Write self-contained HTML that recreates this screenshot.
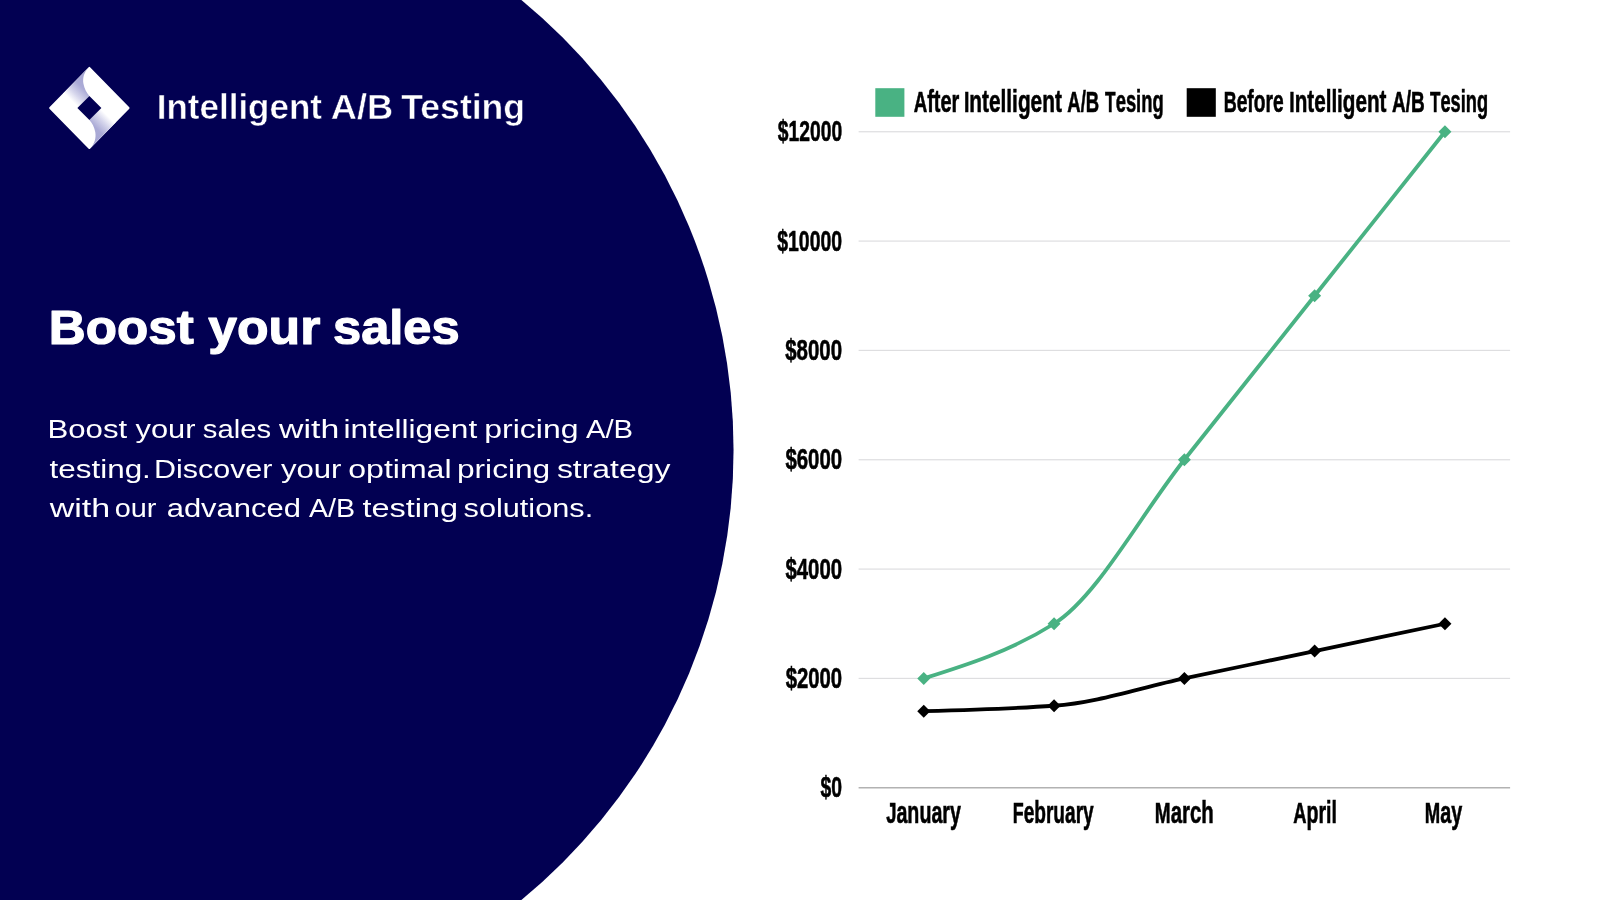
<!DOCTYPE html>
<html><head><meta charset="utf-8"><title>Intelligent A/B Testing</title>
<style>
html,body{margin:0;padding:0;background:#fff;}
body{width:1600px;height:900px;overflow:hidden;font-family:"Liberation Sans",sans-serif;}
svg{display:block;will-change:transform;}
text{font-family:"Liberation Sans",sans-serif;}
.cond{font-weight:700;fill:#000;stroke:#000;stroke-width:0.6px;paint-order:stroke;}
.w{fill:#fff;}
.b{font-weight:700;}
.er{stroke:#020052;stroke-width:0.5px;}
.hs{stroke:#fff;stroke-width:1.2px;stroke-linejoin:round;}
</style></head><body>
<svg width="1600" height="900" viewBox="0 0 1600 900">
<rect width="1600" height="900" fill="#fff"/>
<circle cx="150.25" cy="450" r="583.3" fill="#020052"/>
<defs>
<clipPath id="dm"><path d="M89.35,66.65 L129.95,107.95 L89.35,149.25 L48.75,107.95 Z"/></clipPath>
<linearGradient id="g1" gradientUnits="userSpaceOnUse" x1="100.35" y1="76.95" x2="74.15" y2="103.15">
<stop offset="0" stop-color="#a0a0d0"/><stop offset="0.55" stop-color="#ababd6"/><stop offset="0.8" stop-color="#d6d6ec"/><stop offset="1" stop-color="#ffffff"/>
</linearGradient>
</defs>
<path d="M89.35,67.85 L128.55,107.95 L89.35,148.05 L50.15,107.95 Z" fill="#fff" stroke="#fff" stroke-width="2" stroke-linejoin="round"/>
<g clip-path="url(#dm)">
<path d="M89.35,66.65 C83.95,71.85 82.45,77.85 83.45,83.85 C84.45,88.85 86.45,92.85 89.35,95.95 L77.35,107.95 L62.85,93.45 Z" fill="url(#g1)"/>
<path d="M89.35,66.65 C83.95,71.85 82.45,77.85 83.45,83.85 C84.45,88.85 86.45,92.85 89.35,95.95 L77.35,107.95 L62.85,93.45 Z" fill="url(#g1)" transform="rotate(180 89.35 107.95)"/>
</g>
<path d="M89.35,95.95 L101.35,107.95 L89.35,119.95 L77.35,107.95 Z" fill="#020052"/>

<text x="156.81" y="119.00" textLength="165.12" lengthAdjust="spacingAndGlyphs" font-size="35.6" class="w b er">Intelligent</text>
<text x="330.75" y="119.00" textLength="62.40" lengthAdjust="spacingAndGlyphs" font-size="35.6" class="w b er">A/B</text>
<text x="401.26" y="119.00" textLength="123.82" lengthAdjust="spacingAndGlyphs" font-size="35.6" class="w b er">Testing</text>

<text x="48.88" y="344.20" textLength="144.84" lengthAdjust="spacingAndGlyphs" font-size="48.3" class="w b hs">Boost</text>
<text x="208.30" y="344.20" textLength="111.99" lengthAdjust="spacingAndGlyphs" font-size="48.3" class="w b hs">your</text>
<text x="333.02" y="344.20" textLength="126.66" lengthAdjust="spacingAndGlyphs" font-size="48.3" class="w b hs">sales</text>

<text x="47.44" y="437.70" textLength="79.79" lengthAdjust="spacingAndGlyphs" font-size="26.6" class="w">Boost</text>
<text x="135.52" y="437.70" textLength="59.99" lengthAdjust="spacingAndGlyphs" font-size="26.6" class="w">your</text>
<text x="202.79" y="437.70" textLength="68.27" lengthAdjust="spacingAndGlyphs" font-size="26.6" class="w">sales</text>
<text x="279.05" y="437.70" textLength="60.15" lengthAdjust="spacingAndGlyphs" font-size="26.6" class="w">with</text>
<text x="343.48" y="437.70" textLength="133.75" lengthAdjust="spacingAndGlyphs" font-size="26.6" class="w">intelligent</text>
<text x="484.34" y="437.70" textLength="94.12" lengthAdjust="spacingAndGlyphs" font-size="26.6" class="w">pricing</text>
<text x="585.94" y="437.70" textLength="47.20" lengthAdjust="spacingAndGlyphs" font-size="26.6" class="w">A/B</text>
<text x="49.52" y="477.60" textLength="101.35" lengthAdjust="spacingAndGlyphs" font-size="26.6" class="w">testing.</text>
<text x="153.90" y="477.60" textLength="118.61" lengthAdjust="spacingAndGlyphs" font-size="26.6" class="w">Discover</text>
<text x="280.92" y="477.60" textLength="60.59" lengthAdjust="spacingAndGlyphs" font-size="26.6" class="w">your</text>
<text x="348.25" y="477.60" textLength="103.29" lengthAdjust="spacingAndGlyphs" font-size="26.6" class="w">optimal</text>
<text x="456.96" y="477.60" textLength="93.28" lengthAdjust="spacingAndGlyphs" font-size="26.6" class="w">pricing</text>
<text x="556.91" y="477.60" textLength="113.55" lengthAdjust="spacingAndGlyphs" font-size="26.6" class="w">strategy</text>
<text x="49.65" y="517.40" textLength="60.56" lengthAdjust="spacingAndGlyphs" font-size="26.6" class="w">with</text>
<text x="114.79" y="517.40" textLength="41.69" lengthAdjust="spacingAndGlyphs" font-size="26.6" class="w">our</text>
<text x="166.68" y="517.40" textLength="134.31" lengthAdjust="spacingAndGlyphs" font-size="26.6" class="w">advanced</text>
<text x="308.94" y="517.40" textLength="46.17" lengthAdjust="spacingAndGlyphs" font-size="26.6" class="w">A/B</text>
<text x="362.51" y="517.40" textLength="95.58" lengthAdjust="spacingAndGlyphs" font-size="26.6" class="w">testing</text>
<text x="463.55" y="517.40" textLength="129.66" lengthAdjust="spacingAndGlyphs" font-size="26.6" class="w">solutions.</text>

<rect x="858.60" y="677.82" width="651.50" height="1.2" fill="#dedee0"/>
<rect x="858.60" y="568.48" width="651.50" height="1.2" fill="#dedee0"/>
<rect x="858.60" y="459.15" width="651.50" height="1.2" fill="#dedee0"/>
<rect x="858.60" y="349.82" width="651.50" height="1.2" fill="#dedee0"/>
<rect x="858.60" y="240.48" width="651.50" height="1.2" fill="#dedee0"/>
<rect x="858.60" y="131.15" width="651.50" height="1.2" fill="#dedee0"/>
<rect x="858.60" y="787.00" width="651.50" height="1.5" fill="#b2b2b2"/>

<text x="820.54" y="797.35" textLength="21.55" lengthAdjust="spacingAndGlyphs" font-size="29.3" class="cond"><tspan font-size="29.3">$0</tspan></text>
<text x="785.63" y="688.02" textLength="56.50" lengthAdjust="spacingAndGlyphs" font-size="29.3" class="cond"><tspan font-size="29.3">$2000</tspan></text>
<text x="785.43" y="578.68" textLength="56.71" lengthAdjust="spacingAndGlyphs" font-size="29.3" class="cond"><tspan font-size="29.3">$4000</tspan></text>
<text x="785.43" y="469.35" textLength="56.71" lengthAdjust="spacingAndGlyphs" font-size="29.3" class="cond"><tspan font-size="29.3">$6000</tspan></text>
<text x="785.23" y="360.02" textLength="56.91" lengthAdjust="spacingAndGlyphs" font-size="29.3" class="cond"><tspan font-size="29.3">$8000</tspan></text>
<text x="777.24" y="250.68" textLength="64.85" lengthAdjust="spacingAndGlyphs" font-size="29.3" class="cond"><tspan font-size="29.3">$10000</tspan></text>
<text x="777.85" y="141.35" textLength="64.24" lengthAdjust="spacingAndGlyphs" font-size="29.3" class="cond"><tspan font-size="29.3">$12000</tspan></text>

<text x="886.22" y="822.80" textLength="74.68" lengthAdjust="spacingAndGlyphs" font-size="29.3" class="cond"><tspan font-size="29.3">J</tspan><tspan font-size="31.3">anuary</tspan></text>
<text x="1012.70" y="822.80" textLength="81.00" lengthAdjust="spacingAndGlyphs" font-size="29.3" class="cond"><tspan font-size="29.3">F</tspan><tspan font-size="31.3">ebruary</tspan></text>
<text x="1154.83" y="822.80" textLength="58.84" lengthAdjust="spacingAndGlyphs" font-size="29.3" class="cond"><tspan font-size="29.3">M</tspan><tspan font-size="31.3">arch</tspan></text>
<text x="1293.24" y="822.80" textLength="43.74" lengthAdjust="spacingAndGlyphs" font-size="29.3" class="cond"><tspan font-size="29.3">A</tspan><tspan font-size="31.3">pril</tspan></text>
<text x="1424.86" y="822.80" textLength="37.45" lengthAdjust="spacingAndGlyphs" font-size="29.3" class="cond"><tspan font-size="29.3">M</tspan><tspan font-size="31.3">ay</tspan></text>

<rect x="875.3" y="88.2" width="29.1" height="28.6" fill="#49b283"/>
<text x="913.63" y="111.70" textLength="45.67" lengthAdjust="spacingAndGlyphs" font-size="29.3" class="cond"><tspan font-size="29.3">A</tspan><tspan font-size="31.3">fter</tspan></text>
<text x="963.90" y="111.70" textLength="97.96" lengthAdjust="spacingAndGlyphs" font-size="29.3" class="cond"><tspan font-size="29.3">I</tspan><tspan font-size="31.3">ntelligent</tspan></text>
<text x="1067.34" y="111.70" textLength="31.90" lengthAdjust="spacingAndGlyphs" font-size="29.3" class="cond"><tspan font-size="29.3">A/B</tspan></text>
<text x="1105.11" y="111.70" textLength="58.63" lengthAdjust="spacingAndGlyphs" font-size="29.3" class="cond"><tspan font-size="29.3">T</tspan><tspan font-size="31.3">esing</tspan></text>
<rect x="1186.7" y="88.2" width="29.1" height="28.6" fill="#000"/>
<text x="1223.70" y="111.70" textLength="59.96" lengthAdjust="spacingAndGlyphs" font-size="29.3" class="cond"><tspan font-size="29.3">B</tspan><tspan font-size="31.3">efore</tspan></text>
<text x="1289.31" y="111.70" textLength="97.15" lengthAdjust="spacingAndGlyphs" font-size="29.3" class="cond"><tspan font-size="29.3">I</tspan><tspan font-size="31.3">ntelligent</tspan></text>
<text x="1391.93" y="111.70" textLength="32.74" lengthAdjust="spacingAndGlyphs" font-size="29.3" class="cond"><tspan font-size="29.3">A/B</tspan></text>
<text x="1430.01" y="111.70" textLength="58.01" lengthAdjust="spacingAndGlyphs" font-size="29.3" class="cond"><tspan font-size="29.3">T</tspan><tspan font-size="31.3">esing</tspan></text>

<path d="M923.75,678.42 C967.18,664.75 1010.62,651.08 1054.05,623.75 C1097.48,596.42 1140.92,514.42 1184.35,459.75 C1227.78,405.08 1271.22,350.42 1314.65,295.75 C1358.08,241.08 1401.52,186.42 1444.95,131.75" fill="none" stroke="#49b283" stroke-width="3.8"/>
<path d="M923.75,671.92 l6.5,6.5 l-6.5,6.5 l-6.5,-6.5 z" fill="#49b283"/><path d="M1054.05,617.25 l6.5,6.5 l-6.5,6.5 l-6.5,-6.5 z" fill="#49b283"/><path d="M1184.35,453.25 l6.5,6.5 l-6.5,6.5 l-6.5,-6.5 z" fill="#49b283"/><path d="M1314.65,289.25 l6.5,6.5 l-6.5,6.5 l-6.5,-6.5 z" fill="#49b283"/><path d="M1444.95,125.25 l6.5,6.5 l-6.5,6.5 l-6.5,-6.5 z" fill="#49b283"/>

<path d="M923.75,711.22 C967.18,710.00 1010.62,708.79 1054.05,705.75 C1097.48,702.71 1140.92,687.53 1184.35,678.42 C1227.78,669.31 1271.22,660.19 1314.65,651.08 C1358.08,641.97 1401.52,632.86 1444.95,623.75" fill="none" stroke="#000" stroke-width="3.8"/>
<path d="M923.75,704.72 l6.5,6.5 l-6.5,6.5 l-6.5,-6.5 z" fill="#000"/><path d="M1054.05,699.25 l6.5,6.5 l-6.5,6.5 l-6.5,-6.5 z" fill="#000"/><path d="M1184.35,671.92 l6.5,6.5 l-6.5,6.5 l-6.5,-6.5 z" fill="#000"/><path d="M1314.65,644.58 l6.5,6.5 l-6.5,6.5 l-6.5,-6.5 z" fill="#000"/><path d="M1444.95,617.25 l6.5,6.5 l-6.5,6.5 l-6.5,-6.5 z" fill="#000"/>

</svg>
</body></html>
